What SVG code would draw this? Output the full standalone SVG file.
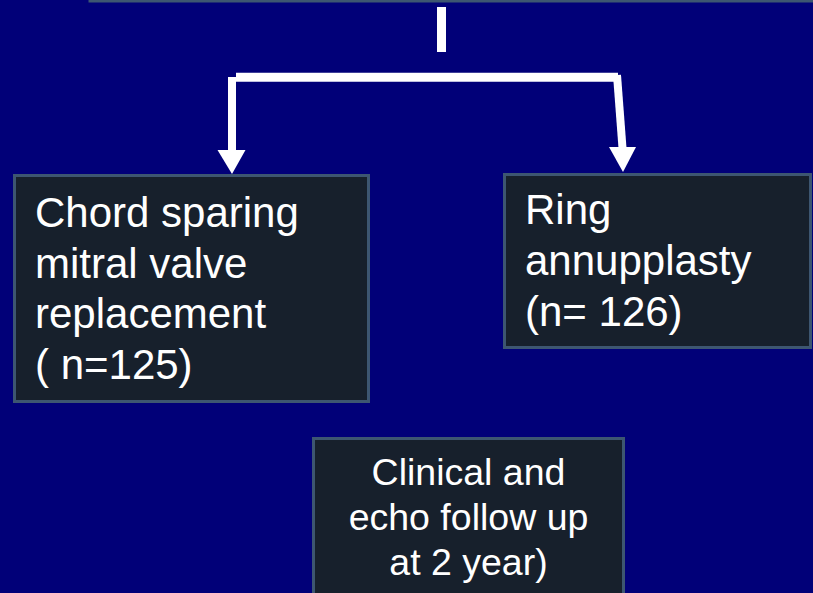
<svg xmlns="http://www.w3.org/2000/svg" width="813" height="593" viewBox="0 0 813 593">
<style>
.box{fill:#17202c;stroke:#3d5671;stroke-width:3}
.t{font-family:"Liberation Sans",Arial,sans-serif;fill:#ffffff}
.big{font-size:42px}
.mid{font-size:37.5px}
.ln{stroke:#ffffff;fill:none;stroke-linecap:butt}
.ah{fill:#ffffff}
</style>
<rect width="813" height="593" fill="#010078"/>
<g id="top-node">
<rect class="box" x="90" y="-100" width="800" height="101"/>
</g>
<g id="connectors">
<line class="ln" x1="441.5" y1="7" x2="441.5" y2="52" stroke-width="9"/>
<line class="ln" x1="236" y1="77.2" x2="618" y2="77.2" stroke-width="9"/>
<line class="ln" x1="232" y1="77" x2="232" y2="151" stroke-width="8"/>
<line class="ln" x1="617" y1="75" x2="622.5" y2="148" stroke-width="8"/>
<polygon class="ah" points="217.5,150 245.5,150 232,174"/>
<polygon class="ah" points="609,147 636,147 623,172"/>
</g>
<g id="node-mvr">
<rect class="box" x="14.5" y="175.5" width="354" height="226"/>
<text class="t big" x="35" y="227">Chord sparing</text>
<text class="t big" x="35" y="277.5">mitral valve</text>
<text class="t big" x="35" y="328">replacement</text>
<text class="t big" x="35" y="378.5">( n=125)</text>
</g>
<g id="node-ring">
<rect class="box" x="504.5" y="174.5" width="306" height="173"/>
<text class="t big" x="525" y="224">Ring</text>
<text class="t big" x="525" y="275">annupplasty</text>
<text class="t big" x="525" y="326">(n= 126)</text>
</g>
<g id="node-followup">
<rect class="box" x="313.5" y="438.5" width="310" height="200"/>
<text class="t mid" x="468.5" y="485" text-anchor="middle">Clinical and</text>
<text class="t mid" x="468.5" y="530" text-anchor="middle">echo follow up</text>
<text class="t mid" x="468.5" y="575" text-anchor="middle">at 2 year)</text>
</g>
</svg>
